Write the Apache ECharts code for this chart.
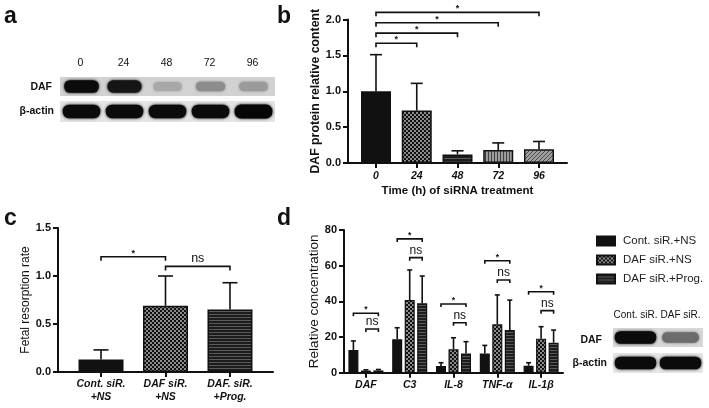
<!DOCTYPE html>
<html><head><meta charset="utf-8">
<script src="https://cdn.jsdelivr.net/npm/echarts@6/dist/echarts.min.js"></script>
<style>html,body{margin:0;padding:0;background:#fff}#c{width:709px;height:408px}</style>
</head><body><div id="c"></div>
<script>
// ---------- Panel a (western blot) ----------
const blotLanesA = ['0', '24', '48', '72', '96'];
const blotDAF_A = [0.95, 0.9, 0.22, 0.35, 0.28];     // band darkness 0..1
const blotActinA = [0.95, 0.95, 0.95, 0.95, 0.97];
// ---------- Panel b ----------
const timeCats = ['0', '24', '48', '72', '96'];
const dafMean = [1.0, 0.73, 0.12, 0.18, 0.19];
const dafErrTop = [1.51, 1.11, 0.17, 0.28, 0.30];
const bBrFrom = [0, 0, 0, 0];
const bBrTo = [1, 2, 3, 4];
const bBrY = [1.67, 1.81, 1.955, 2.10];
const bBrText = ['*', '*', '*', '*'];
// ---------- Panel c ----------
const groupsC = ['Cont. siR.\n+NS', 'DAF siR.\n+NS', 'DAF. siR.\n+Prog.'];
const fetalMean = [0.13, 0.69, 0.65];
const fetalErrTop = [0.23, 1.0, 0.93];
const cBrFrom = [0, 1];
const cBrTo = [1, 2];
const cBrY = [1.20, 1.10];
const cBrText = ['*', 'ns'];
// ---------- Panel d ----------
const markers = ['DAF', 'C3', 'IL-8', 'TNF-α', 'IL-1β'];
const seriesNames = ['Cont. siR.+NS', 'DAF siR.+NS', 'DAF siR.+Prog.'];
const contNS = [12.7, 18.7, 3.7, 10.8, 3.9];
const contNSErr = [17.8, 25.2, 5.6, 15.3, 5.6];
const dafNS = [1.2, 40.7, 13.1, 27.1, 19.1];
const dafNSErr = [1.6, 57.6, 19.6, 43.6, 25.8];
const dafProg = [1.3, 38.9, 10.8, 23.9, 16.8];
const dafProgErr = [1.8, 54.2, 17.4, 40.7, 23.9];
const dStarY = [33.3, 75, 38.5, 62.8, 45.4];   // bracket Cont -> Prog
const dNsY = [24.5, 64.5, 28.0, 52.0, 34.8];   // bracket DAF siR -> Prog
const blotLanesD = ['Cont. siR.', 'DAF siR.'];
const blotDAF_D = [0.95, 0.5];
const blotActinD = [0.95, 0.95];

const FONT = '"Liberation Sans", Arial, sans-serif';
const INK = '#111';

function pat(kind) {
  const c = document.createElement('canvas');
  let g;
  if (kind === 'checker') {
    c.width = c.height = 4; g = c.getContext('2d');
    g.fillStyle = '#111'; g.fillRect(0, 0, 4, 4);
    g.fillStyle = '#8a8a8a'; g.fillRect(0, 0, 2, 2); g.fillRect(2, 2, 2, 2);
  } else if (kind === 'hstripe') {
    c.width = 4; c.height = 3; g = c.getContext('2d');
    g.fillStyle = '#1c1c1c'; g.fillRect(0, 0, 4, 3);
    g.fillStyle = '#5a5a5a'; g.fillRect(0, 2, 4, 1);
  } else if (kind === 'vstripe') {
    c.width = 3; c.height = 4; g = c.getContext('2d');
    g.fillStyle = '#9a9a9a'; g.fillRect(0, 0, 3, 4);
    g.fillStyle = '#444'; g.fillRect(2, 0, 1, 4);
  } else if (kind === 'diag') {
    c.width = c.height = 4; g = c.getContext('2d');
    g.fillStyle = '#a0a0a0'; g.fillRect(0, 0, 4, 4);
    g.fillStyle = '#4a4a4a';
    for (let i = 0; i < 4; i++) g.fillRect(3 - i, i, 1, 1);
  } else {
    c.width = c.height = 2; g = c.getContext('2d');
    g.fillStyle = '#111'; g.fillRect(0, 0, 2, 2);
  }
  return { image: c, repeat: 'repeat' };
}
const P = { solid: '#111', checker: pat('checker'), h: pat('hstripe'), v: pat('vstripe'), d: pat('diag') };
const bFills = [P.solid, P.checker, P.h, P.v, P.d];
const cFills = [P.solid, P.checker, P.h];
const dFills = [P.solid, P.checker, P.h];

const axLine = { show: true, onZero: false, lineStyle: { color: INK, width: 2 } };
const axTick = { show: true, length: 5, lineStyle: { color: INK, width: 2 } };
const tickLab = { color: INK, fontWeight: 'bold', fontSize: 11, fontFamily: FONT, margin: 7 };
const xLab = { color: INK, fontWeight: 'bold', fontStyle: 'italic', fontSize: 10.5, fontFamily: FONT };

function errRender(capW, offset) {
  return function (params, api) {
    const x = api.value(0);
    const lo = api.coord([x, api.value(1)]);
    const hi = api.coord([x, api.value(2)]);
    const cx = lo[0] + offset;
    const st = { stroke: INK, lineWidth: 1.6 };
    return { type: 'group', children: [
      { type: 'line', shape: { x1: cx, y1: lo[1], x2: cx, y2: hi[1] }, style: st },
      { type: 'line', shape: { x1: cx - capW / 2, y1: hi[1], x2: cx + capW / 2, y2: hi[1] }, style: st }
    ] };
  };
}
function bracketRender(texts, tick, starSize, nsSize, offsets) {
  return function (params, api) {
    const cat = api.value(0), b1 = api.value(1), b2 = api.value(2), y = api.value(3);
    let p1, p2;
    if (offsets) {
      p1 = api.coord([cat, y]); p2 = p1.slice();
      p1 = [p1[0] + offsets[b1], p1[1]]; p2 = [p2[0] + offsets[b2], p2[1]];
    } else {
      p1 = api.coord([b1, y]); p2 = api.coord([b2, y]);
    }
    const t = texts[params.dataIndex];
    const isStar = t === '*';
    return { type: 'group', children: [
      { type: 'polyline', shape: { points: [[p1[0], p1[1] + tick], [p1[0], p1[1]], [p2[0], p2[1]], [p2[0], p2[1] + tick]] },
        style: { stroke: INK, lineWidth: 1.6, fill: null } },
      { type: 'text', x: (p1[0] + p2[0]) / 2, y: p1[1] - (isStar ? -1 : 1),
        style: { text: t, fill: INK, fontFamily: FONT, fontSize: isStar ? starSize : nsSize,
          fontWeight: isStar ? 'bold' : 'normal', align: 'center', verticalAlign: 'bottom' } }
    ] };
  };
}

// panel d bar offsets within a category
const dBarW = 10, dGapRatio = 0.25;
const dStep = dBarW * (1 + dGapRatio);
const dOffsets = [-dStep, 0, dStep];
const dDataSets = [[contNS, contNSErr], [dafNS, dafNSErr], [dafProg, dafProgErr]];
const dTexts = [];
const dBrData = [];
markers.forEach((m, i) => { dBrData.push([i, 0, 2, dStarY[i]]); dTexts.push('*'); });
markers.forEach((m, i) => { dBrData.push([i, 1, 2, dNsY[i]]); dTexts.push('ns'); });

// ---------- graphics: panel letters and blots ----------
const graphics = [];
function txt(x, y, s, opt) {
  graphics.push({ type: 'text', x: x, y: y, silent: true,
    style: Object.assign({ text: s, fill: INK, fontFamily: FONT, fontSize: 10, align: 'center', verticalAlign: 'middle' }, opt || {}) });
}
function shade(v) { const g = Math.round(215 * (1 - v)); return 'rgb(' + g + ',' + g + ',' + g + ')'; }
function blot(x0, w, y0, h, bg, levels, bandW, bandH) {
  graphics.push({ type: 'rect', shape: { x: x0, y: y0, width: w, height: h }, style: { fill: bg }, silent: true });
  const lw = w / levels.length;
  levels.forEach((v, i) => {
    const cx = x0 + lw * (i + 0.5);
    const bw = bandW * (0.75 + 0.25 * v);
    const bh = bandH * (0.6 + 0.4 * v);
    const col = shade(v);
    graphics.push({ type: 'rect', silent: true,
      shape: { x: cx - bw / 2, y: y0 + h / 2 - bh / 2, width: bw, height: bh, r: bh / 2.2 },
      style: { fill: col, shadowBlur: 3, shadowColor: col } });
  });
}
txt(4, 17, 'a', { fontSize: 23, fontWeight: 'bold', align: 'left' });
txt(277, 17, 'b', { fontSize: 23, fontWeight: 'bold', align: 'left' });
txt(4, 219, 'c', { fontSize: 23, fontWeight: 'bold', align: 'left' });
txt(277, 219, 'd', { fontSize: 23, fontWeight: 'bold', align: 'left' });
// panel a blot
blot(60, 215, 77, 19, '#d2d2d2', blotDAF_A, 35, 13);
blot(60, 215, 101, 21, '#e4e4e4', blotActinA, 38, 14);
blotLanesA.forEach((s, i) => txt(60 + 43 * (i + 0.5) - 1, 63, s, { fontSize: 10.5 }));
txt(52, 87, 'DAF', { fontWeight: 'bold', align: 'right', fontSize: 10.5 });
txt(54, 111, 'β-actin', { fontWeight: 'bold', align: 'right', fontSize: 10.5 });
// panel d blot
blot(613, 90, 328, 19, '#d8d8d8', blotDAF_D, 42, 13);
blot(613, 90, 353, 20, '#e6e6e6', blotActinD, 42, 13);
blotLanesD.forEach((s, i) => txt(613 + 45 * (i + 0.5), 315, s, { fontSize: 10 }));
txt(602, 340, 'DAF', { fontWeight: 'bold', align: 'right', fontSize: 10.5 });
txt(607, 363, 'β-actin', { fontWeight: 'bold', align: 'right', fontSize: 10.5 });

const option = {
  animation: false,
  backgroundColor: '#fff',
  graphic: graphics,
  legend: {
    data: seriesNames, orient: 'vertical', left: 591, top: 230,
    itemWidth: 18, itemHeight: 9, itemGap: 7, icon: 'rect',
    textStyle: { fontFamily: FONT, fontSize: 11.5, color: '#222', padding: [0, 0, 0, 3] }
  },
  grid: [
    { left: 348, top: 19.5, width: 219, height: 143.5 },
    { left: 58, top: 228, width: 215, height: 144 },
    { left: 344, top: 230, width: 219, height: 142.7 }
  ],
  xAxis: [
    { gridIndex: 0, type: 'value', min: -0.687, max: 4.687, splitLine: { show: false },
      axisLine: axLine, axisTick: Object.assign({ customValues: [0, 1, 2, 3, 4] }, axTick),
      axisLabel: Object.assign({ customValues: [0, 1, 2, 3, 4], formatter: v => timeCats[Math.round(v)], margin: 8 }, xLab),
      name: 'Time (h) of siRNA treatment', nameLocation: 'middle', nameGap: 22,
      nameTextStyle: { fontFamily: FONT, fontWeight: 'bold', fontSize: 11.5, color: INK } },
    { gridIndex: 1, type: 'value', min: -0.667, max: 2.667, splitLine: { show: false },
      axisLine: axLine, axisTick: Object.assign({ customValues: [0, 1, 2] }, axTick),
      axisLabel: Object.assign({ customValues: [0, 1, 2], formatter: v => groupsC[Math.round(v)], margin: 6, lineHeight: 13 }, xLab) },
    { gridIndex: 2, type: 'category', data: markers, axisLine: axLine,
      axisTick: Object.assign({ alignWithLabel: true }, axTick),
      axisLabel: Object.assign({ margin: 7 }, xLab) }
  ],
  yAxis: [
    { gridIndex: 0, type: 'value', min: 0, max: 2, interval: 0.5, splitLine: { show: false },
      axisLine: axLine, axisTick: axTick, axisLabel: Object.assign({ formatter: v => v.toFixed(1) }, tickLab),
      name: 'DAF protein relative content', nameLocation: 'middle', nameGap: 25,
      nameTextStyle: { fontFamily: FONT, fontWeight: 'bold', fontSize: 12.3, color: INK } },
    { gridIndex: 1, type: 'value', min: 0, max: 1.5, interval: 0.5, splitLine: { show: false },
      axisLine: axLine, axisTick: axTick, axisLabel: Object.assign({ formatter: v => v.toFixed(1) }, tickLab),
      name: 'Fetal resorption rate', nameLocation: 'middle', nameGap: 26,
      nameTextStyle: { fontFamily: FONT, fontWeight: 'normal', fontSize: 12, color: INK } },
    { gridIndex: 2, type: 'value', min: 0, max: 80, interval: 20, splitLine: { show: false },
      axisLine: axLine, axisTick: axTick, axisLabel: tickLab,
      name: 'Relative concentration', nameLocation: 'middle', nameGap: 18,
      nameTextStyle: { fontFamily: FONT, fontWeight: 'normal', fontSize: 13.5, color: INK } }
  ],
  series: [
    // panel b
    { type: 'bar', xAxisIndex: 0, yAxisIndex: 0, barWidth: 30,
      itemStyle: { borderColor: INK, borderWidth: 1.5 },
      data: dafMean.map((v, i) => ({ value: [i, v], itemStyle: { color: bFills[i] } })) },
    { type: 'custom', xAxisIndex: 0, yAxisIndex: 0, renderItem: errRender(12, 0),
      data: dafMean.map((v, i) => [i, v, dafErrTop[i]]) },
    { type: 'custom', xAxisIndex: 0, yAxisIndex: 0, clip: false,
      renderItem: bracketRender(bBrText, 4, 9, 12),
      data: bBrY.map((y, i) => [0, bBrFrom[i], bBrTo[i], y]) },
    // panel c
    { type: 'bar', xAxisIndex: 1, yAxisIndex: 1, barWidth: 45,
      itemStyle: { borderColor: INK, borderWidth: 1.5 },
      data: fetalMean.map((v, i) => ({ value: [i, v], itemStyle: { color: cFills[i] } })) },
    { type: 'custom', xAxisIndex: 1, yAxisIndex: 1, renderItem: errRender(15, 0),
      data: fetalMean.map((v, i) => [i, v, fetalErrTop[i]]) },
    { type: 'custom', xAxisIndex: 1, yAxisIndex: 1, clip: false,
      renderItem: bracketRender(cBrText, 4, 9, 12.5),
      data: cBrY.map((y, i) => [0, cBrFrom[i], cBrTo[i], y]) },
    // panel d
    ...dDataSets.map((ds, k) => ({
      type: 'bar', name: seriesNames[k], xAxisIndex: 2, yAxisIndex: 2, barWidth: dBarW, barGap: (dGapRatio * 100) + '%',
      itemStyle: { color: dFills[k], borderColor: INK, borderWidth: 1.2 },
      data: ds[0]
    })),
    ...dDataSets.map((ds, k) => ({
      type: 'custom', xAxisIndex: 2, yAxisIndex: 2, renderItem: errRender(5, dOffsets[k]),
      data: ds[0].map((v, i) => [i, v, ds[1][i]])
    })),
    { type: 'custom', xAxisIndex: 2, yAxisIndex: 2, clip: false,
      renderItem: bracketRender(dTexts, 3, 8.5, 12, dOffsets), data: dBrData }
  ]
};
const chart = echarts.init(document.getElementById('c'), null, { renderer: 'canvas' });
chart.setOption(option);
</script></body></html>
